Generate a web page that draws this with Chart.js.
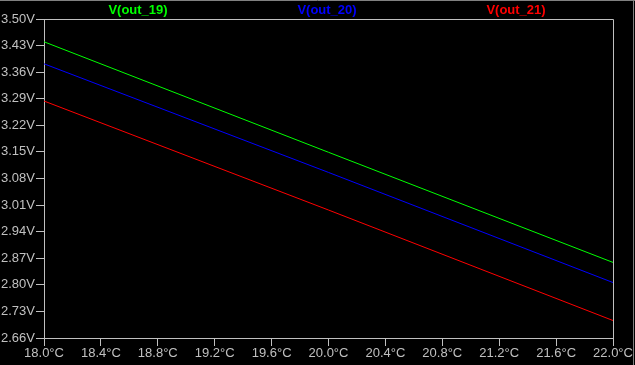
<!DOCTYPE html>
<html>
<head>
<meta charset="utf-8">
<script src="https://cdn.jsdelivr.net/npm/chart.js@4"></script>
<style>
  html, body { margin: 0; padding: 0; background: #000; }
  #wrap { width: 635px; height: 365px; position: relative; }
</style>
</head>
<body>
<div id="wrap"><canvas id="myChart"></canvas></div>
<script>
// temperature (°C) and node voltages
const temps = [18.0, 20.0, 22.0];
const out19 = [3.440, 3.149, 2.859];
const out20 = [3.382, 3.096, 2.806];
const out21 = [3.284, 2.997, 2.706];

const seriesNames = ['V(out_19)', 'V(out_20)', 'V(out_21)'];
const xTicks = [18.0, 18.4, 18.8, 19.2, 19.6, 20.0, 20.4, 20.8, 21.2, 21.6, 22.0];
const yTicks = [2.66, 2.73, 2.80, 2.87, 2.94, 3.01, 3.08, 3.15, 3.22, 3.29, 3.36, 3.43, 3.50];

const gray = '#c0c0c0';
const font = { family: 'Liberation Sans, Arial, sans-serif', size: 13 };

function pts(ys) {
    return temps.map((t, i) => ({ x: t, y: ys[i] }));
}

// frame around plot area + window edge + trace names on top
const framePlugin = {
    id: 'frame',
    afterDraw(chart) {
        const c = chart.ctx;
        const a = chart.chartArea;
        c.save();
        c.strokeStyle = gray;
        c.lineWidth = 1;
        c.beginPath();
        c.moveTo(Math.round(a.left) + 0.5, Math.round(a.top) + 0.5);
        c.lineTo(Math.round(a.right) + 0.5, Math.round(a.top) + 0.5);
        c.lineTo(Math.round(a.right) + 0.5, Math.round(a.bottom) + 0.5);
        c.stroke();

        c.strokeStyle = '#808080';
        c.beginPath();
        c.moveTo(0, 0.5);
        c.lineTo(chart.width, 0.5);
        c.moveTo(chart.width - 1.5, 0);
        c.lineTo(chart.width - 1.5, chart.height);
        c.stroke();

        c.font = 'bold 13px Liberation Sans, Arial, sans-serif';
        c.textAlign = 'center';
        c.textBaseline = 'middle';
        const centers = [138, 327, 516];
        chart.data.datasets.forEach((ds, i) => {
            c.fillStyle = ds.borderColor;
            c.fillText(ds.label, centers[i], 10);
        });
        c.restore();
    }
};

const ctx = document.getElementById('myChart').getContext('2d');
const myChart = new Chart(ctx, {
    type: 'line',
    data: {
        datasets: [
            { label: seriesNames[0], data: pts(out19), borderColor: '#00ff00' },
            { label: seriesNames[1], data: pts(out20), borderColor: '#0000ff' },
            { label: seriesNames[2], data: pts(out21), borderColor: '#ff0000' }
        ]
    },
    options: {
        responsive: true,
        maintainAspectRatio: false,
        animation: false,
        datasets: { line: { borderWidth: 1, pointRadius: 0, tension: 0, fill: false } },
        layout: { padding: { top: 19, right: 22, bottom: 0, left: 0 } },
        plugins: {
            legend: { display: false },
            tooltip: { enabled: false }
        },
        scales: {
            x: {
                type: 'linear',
                min: 18.0,
                max: 22.0,
                afterBuildTicks: (s) => { s.ticks = xTicks.map(v => ({ value: v })); },
                afterFit: (s) => { s.height = 27; },
                ticks: {
                    color: gray,
                    font: font,
                    padding: 0,
                    maxRotation: 0,
                    autoSkip: false,
                    callback: (v) => v.toFixed(1) + '°C'
                },
                grid: { drawOnChartArea: false, drawTicks: true, tickLength: 8, color: gray },
                border: { display: true, color: gray }
            },
            y: {
                type: 'linear',
                min: 2.66,
                max: 3.50,
                afterBuildTicks: (s) => { s.ticks = yTicks.map(v => ({ value: v })); },
                afterFit: (s) => { s.width = 44; },
                ticks: {
                    color: gray,
                    font: font,
                    padding: 1,
                    autoSkip: false,
                    callback: (v) => v.toFixed(2) + 'V'
                },
                grid: { drawOnChartArea: false, drawTicks: true, tickLength: 8, color: gray },
                border: { display: true, color: gray }
            }
        }
    },
    plugins: [framePlugin]
});
</script>
</body>
</html>
